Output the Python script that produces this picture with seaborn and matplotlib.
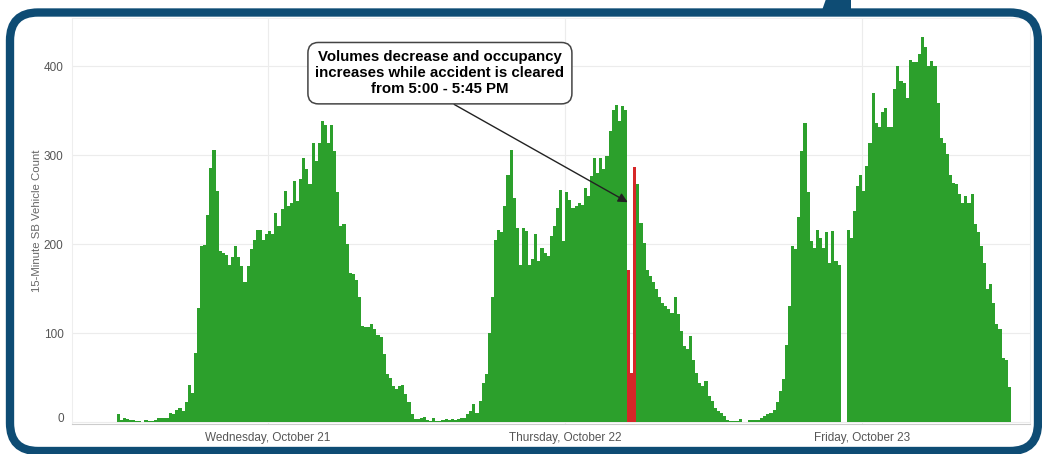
import pandas as pd
import numpy as np
import matplotlib
matplotlib.use("Agg")
import matplotlib.pyplot as plt
from matplotlib.patches import FancyBboxPatch, Polygon
from matplotlib.transforms import IdentityTransform, ScaledTranslation
import seaborn as sns

# 15-minute southbound vehicle counts, series starts Tue 23:45
start_time = "2015-10-20 23:45"
tue_late = [9]
wed_counts = [2, 4, 3, 2, 2, 1, 1, 0, 2, 1, 1, 2, 5, 4, 5, 4,
              10, 9, 14, 16, 12, 22, 42, 33, 78, 128, 198, 199, 233, 286, 306, 260,
              192, 190, 188, 177, 186, 198, 186, 175, 157, 175, 194, 205, 216, 216, 205, 211,
              215, 211, 235, 220, 239, 260, 243, 246, 271, 248, 273, 297, 284, 267, 314, 293,
              314, 338, 334, 314, 334, 305, 258, 220, 222, 200, 168, 166, 160, 140, 108, 107,
              107, 110, 104, 98, 95, 76, 54, 50, 40, 37, 40, 42, 31, 22, 9, 3]
thu_counts = [3, 5, 6, 2, 1, 4, 1, 1, 2, 3, 2, 3, 2, 3, 4, 5,
              9, 12, 20, 10, 24, 44, 54, 100, 140, 205, 216, 213, 243, 278, 306, 252,
              218, 177, 218, 215, 177, 183, 211, 181, 196, 190, 187, 209, 220, 241, 261, 203,
              258, 250, 241, 243, 246, 244, 263, 254, 276, 297, 280, 297, 284, 299, 327, 351,
              356, 338, 355, 351, 171, 55, 287, 268, 224, 201, 171, 164, 157, 149, 140, 134,
              130, 127, 123, 140, 121, 102, 85, 82, 97, 70, 55, 44, 40, 46, 29, 24]
fri_counts = [16, 12, 10, 7, 2, 1, 1, 1, 3, 0, 0, 2, 2, 2, 2, 5,
              7, 9, 10, 14, 22, 35, 48, 87, 130, 198, 194, 230, 304, 336, 258, 203,
              196, 216, 207, 196, 213, 179, 215, 181, 177, 0, 0, 216, 207, 237, 265, 278,
              260, 288, 314, 370, 336, 331, 348, 353, 331, 331, 374, 400, 383, 381, 364, 407,
              404, 404, 413, 433, 421, 400, 406, 400, 359, 319, 314, 301, 278, 269, 267, 256,
              246, 254, 246, 256, 222, 213, 198, 179, 149, 155, 134, 110, 104, 72, 70, 39]
accident_times = ["2015-10-22 17:00", "2015-10-22 17:15", "2015-10-22 17:30"]
day_labels = ["Wednesday, October 21", "Thursday, October 22", "Friday, October 23"]
y_ticks = [0, 100, 200, 300, 400]
note = "Volumes decrease and occupancy\nincreases while accident is cleared\nfrom 5:00 - 5:45 PM"

counts = tue_late + wed_counts + thu_counts + fri_counts
df = pd.DataFrame({"time": pd.date_range(start_time, periods=len(counts), freq="15min"),
                   "count": counts})
df["slot"] = np.arange(len(df))
df["status"] = np.where(df["time"].isin(pd.to_datetime(accident_times)), "accident", "normal")

sns.set_style("white")
plt.rcParams["font.family"] = ["Liberation Sans", "DejaVu Sans"]

W, H = 1042, 454
fig = plt.figure(figsize=(W / 100, H / 100), dpi=100)
ax = fig.add_axes([72 / W, (H - 424) / H, (1030 - 72) / W, (424 - 18) / H])

sns.barplot(data=df, x="slot", y="count", hue="status",
            palette={"normal": "#2ca02c", "accident": "#d62728"}, saturation=1,
            dodge=False, width=1, linewidth=0, errorbar=None, legend=False, ax=ax)

ax.set_xlim(-14.9, 294.7)
ax.set_ylim(-2.2, 454)

noon = df.index[(df["time"].dt.hour == 12) & (df["time"].dt.minute == 0)]
ax.set_xticks(noon - 0.5)
ax.set_xticklabels(day_labels, fontsize=8.5, color="#555555")
ax.set_yticks(y_ticks)
ax.set_yticklabels([str(v) for v in y_ticks], fontsize=8.5, color="#555555")
ax.tick_params(axis="x", length=4, color="#cccccc", pad=2)
ax.tick_params(axis="y", length=0, pad=6)
ax.grid(True, color="#ececec", linewidth=0.8)
ax.set_axisbelow(True)
for side in ["top", "left", "right"]:
    ax.spines[side].set_color("#eeeeee")
    ax.spines[side].set_linewidth(0.8)
ax.spines["bottom"].set_color("#cccccc")
ax.set_xlabel("")
ax.set_ylabel("15-Minute SB Vehicle Count", fontsize=8.2, color="#666666")
ax.yaxis.set_label_coords(-0.031, 0.5)

# Tableau-like nudge of the zero label
zero_lab = ax.get_yticklabels()[0]
zero_lab.set_transform(zero_lab.get_transform() + ScaledTranslation(0, 5 / 100, fig.dpi_scale_trans))

acc_slot = df.index[df["status"] == "accident"][0]
ax.annotate(note, xy=(acc_slot - 0.3, 247), xytext=(104, 392),
            ha="center", va="center", fontsize=10.8, fontweight="bold", color="black",
            linespacing=1.2,
            bbox=dict(boxstyle="round,pad=0.5,rounding_size=0.7", fc="white", ec="#444444", lw=1.1),
            arrowprops=dict(arrowstyle="-|>", color="#222222", lw=1, relpos=(0.5, 0),
                            shrinkA=0, shrinkB=0, mutation_scale=14))

# dark blue rounded frame with tab
frame = FancyBboxPatch((10, 3), 1028, 438.5, boxstyle="round,pad=0,rounding_size=28",
                       lw=6, ec="#0e4c74", fc="none", transform=IdentityTransform(),
                       clip_on=False)
fig.patches.append(frame)
tab = Polygon([(826, 455), (851, 455), (851, 438), (820, 438)], closed=True,
              fc="#0e4c74", ec="none", transform=IdentityTransform())
fig.patches.append(tab)

fig.savefig("out.png", dpi=100)
